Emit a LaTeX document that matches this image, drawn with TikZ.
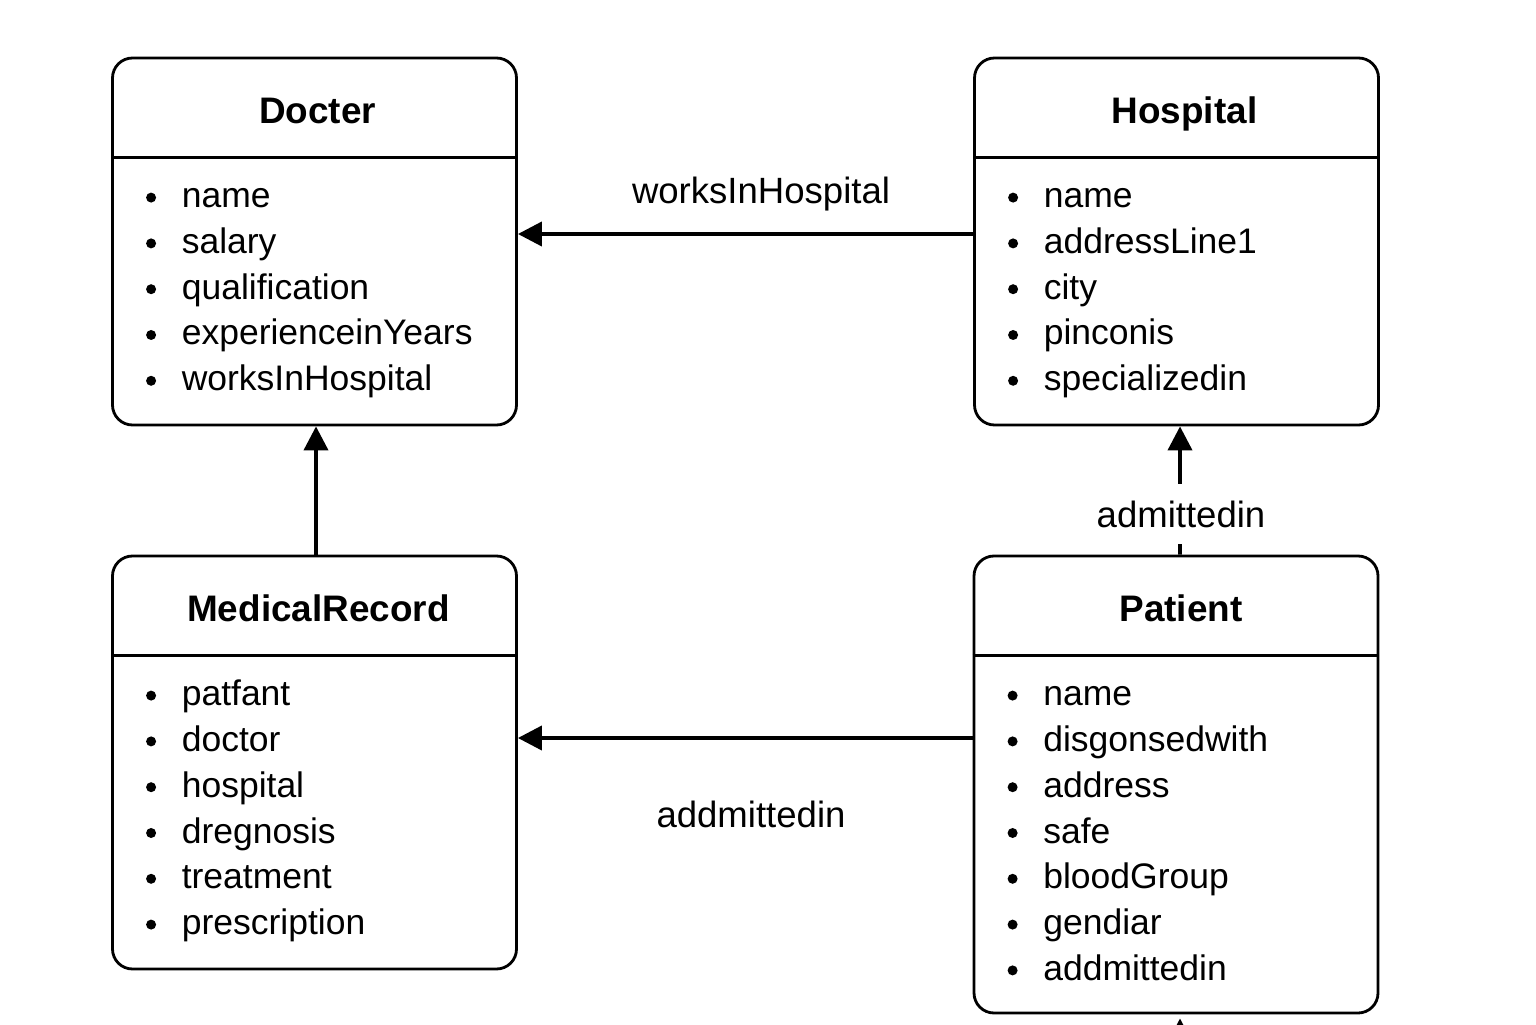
\documentclass[tikz,border=0pt]{standalone}
\usepackage{fontspec}
\setmainfont{Liberation Sans}
\usetikzlibrary{arrows.meta,positioning,calc}

\begin{document}
\begin{tikzpicture}[
    font=\fontsize{10.4}{12}\selectfont,
    classbox/.style={draw, line width=0.8pt, rounded corners=0.2cm, minimum width=4.04cm},
    classtitle/.style={anchor=base, inner sep=0pt, font=\fontsize{10.5}{12}\selectfont\bfseries},
    attr/.style={anchor=base west, inner sep=0pt, font=\fontsize{10.1}{12}\selectfont},
    link/.style={line width=1.1pt, -{Triangle[length=2.4mm, width=2.4mm]}}
  ]
    \useasboundingbox (0,0) rectangle (15.36,10.24);

    % Class boxes
    \node[classbox, minimum height=3.67cm] (Docter) at (3.145,7.825) {};
    \node[classbox, minimum height=3.67cm] (Hospital) at (11.765,7.825) {};
    \node[classbox, minimum height=4.13cm] (MedicalRecord) at (3.145,2.615) {};
    \node[classbox, minimum height=4.57cm] (Patient) at (11.76,2.395) {};

    % Titles and dividers
    \foreach \c/\dx in {Docter/0.03,Hospital/0.08,MedicalRecord/0.04,Patient/0.05} {
      \node[classtitle] (\c Title) at ($(\c.north)+(\dx,-0.67)$) {\c};
      \draw[line width=0.8pt] ($(\c.north west)+(0,-1.01)$) -- ($(\c.north east)+(0,-1.01)$);
    }

    % Attribute lists
    \foreach \t [count=\i from 0] in {name,salary,qualification,experienceinYears,worksInHospital} {
      \fill ($(Docter.north west)+(0.40,{-1.41-0.458*\i})$) circle (0.05);
      \node[attr] (DocterAttr\i) at ($(Docter.north west)+(0.70,{-1.51-0.458*\i})$) {\t};
    }
    \foreach \t [count=\i from 0] in {name,addressLine1,city,pinconis,specializedin} {
      \fill ($(Hospital.north west)+(0.40,{-1.41-0.458*\i})$) circle (0.05);
      \node[attr] (HospitalAttr\i) at ($(Hospital.north west)+(0.70,{-1.51-0.458*\i})$) {\t};
    }
    \foreach \t [count=\i from 0] in {patfant,doctor,hospital,dregnosis,treatment,prescription} {
      \fill ($(MedicalRecord.north west)+(0.40,{-1.41-0.458*\i})$) circle (0.05);
      \node[attr] (RecordAttr\i) at ($(MedicalRecord.north west)+(0.70,{-1.51-0.458*\i})$) {\t};
    }
    \foreach \t [count=\i from 0] in {name,disgonsedwith,address,safe,bloodGroup,gendiar,addmittedin} {
      \fill ($(Patient.north west)+(0.40,{-1.41-0.458*\i})$) circle (0.05);
      \node[attr] (PatientAttr\i) at ($(Patient.north west)+(0.70,{-1.51-0.458*\i})$) {\t};
    }

    % Associations
    \coordinate (worksLine) at ($(Hospital.west)+(0,0.075)$);
    \draw[link] (worksLine) -- (worksLine -| Docter.east);
    \node (worksLbl) at (7.61,8.30) {worksInHospital};

    \draw[link] ($(MedicalRecord.north)+(0.015,0)$) -- ($(Docter.south)+(0.015,0)$);

    \draw[link] ($(Patient.north)+(0.04,0)$) -- ($(Hospital.south)+(0.035,0)$);
    \node[fill=white, inner xsep=0.05cm, inner ysep=0.17cm] (admitLbl) at (11.81,5.10) {admittedin};

    \coordinate (recordLine) at ($(Patient.west)+(0,0.465)$);
    \draw[link] (recordLine) -- (recordLine -| MedicalRecord.east);
    \node (addmitLbl) at (7.51,2.10) {addmittedin};

    % Arrow coming from below the page
    \coordinate (belowPatient) at ($(Patient.south)+(0.04,-0.6)$);
    \draw[link, shorten >=0.04cm] (belowPatient) -- (Patient.south -| belowPatient);
  \end{tikzpicture}
\end{document}
